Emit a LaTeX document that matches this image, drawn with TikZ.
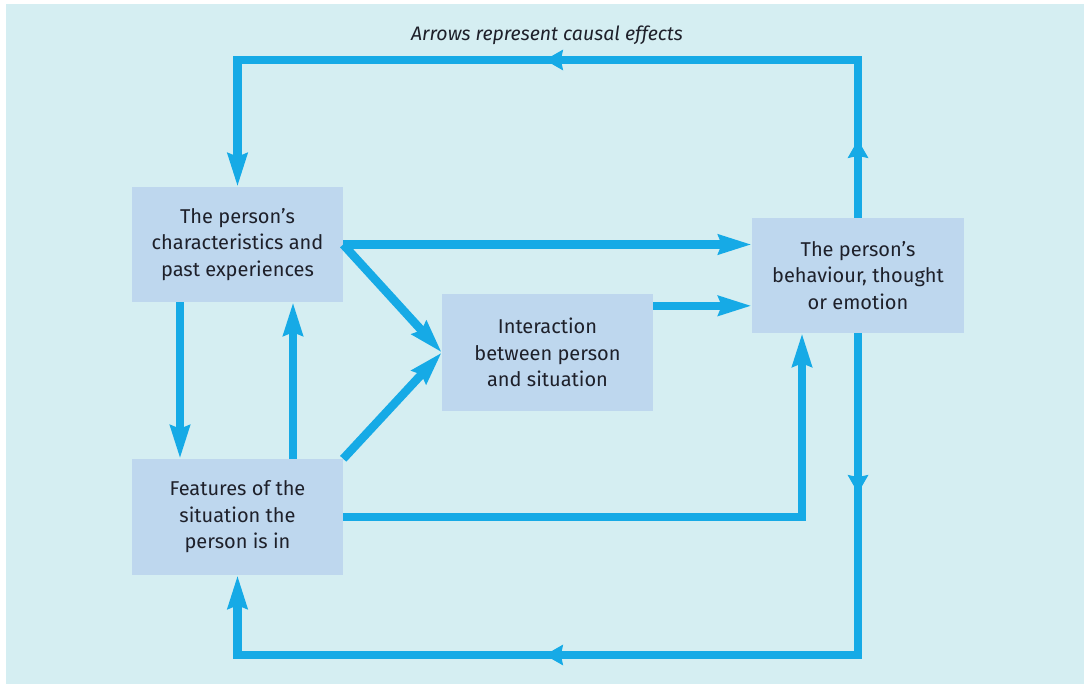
\documentclass[tikz,border=0pt]{standalone}
\usepackage{fontspec}
\setmainfont{Fira Sans}
\usetikzlibrary{arrows.meta,decorations.markings}

\definecolor{panelbg}{RGB}{213,238,242}
\definecolor{boxfill}{RGB}{190,215,238}
\definecolor{flow}{RGB}{22,170,230}
\definecolor{ink}{RGB}{30,32,42}

\tikzset{
  factor/.style={fill=boxfill, draw=none, minimum width=211pt, minimum height=115pt,
    align=center, text=ink, inner sep=0pt, font=\fontsize{20}{26.5}\selectfont},
  link/.style={draw=flow, line width=8.5pt, line join=miter,
    -{Stealth[length=33pt,width=19pt,inset=3pt]}},
  flowmarks/.style 2 args={postaction={decorate}, decoration={markings,
    mark=at position #1 with {\arrow[flow]{Stealth[length=18pt,width=20pt,inset=2pt]}},
    mark=at position #2 with {\arrow[flow]{Stealth[length=18pt,width=20pt,inset=2pt]}}}}
}

\begin{document}
\begin{tikzpicture}[x=1pt,y=-1pt]
  % page and light panel
  \useasboundingbox (0,0) rectangle (1084,684);
  \fill[white] (0,0) rectangle (1084,684);
  \fill[panelbg] (6,4) rectangle (1084,684);

  \node[font=\itshape\fontsize{19.5}{22}\selectfont, text=ink] (title) at (547,35)
    {Arrows represent causal effects};

  % the four factors
  \node[factor] (A) at (237.5,244.5) {The person's\\characteristics and\\past experiences};
  \node[factor, minimum height=116pt] (B) at (237.5,517) {Features of the\\situation the\\person is in};
  \node[factor, minimum height=117pt] (C) at (547.5,352.5) {Interaction\\between person\\and situation};
  \node[factor, minimum width=212pt] (D) at (858,275.5) {The person's\\behaviour, thought\\or emotion};

  \coordinate (top) at (0,60);
  \coordinate (bot) at (0,655);
  \coordinate (c1) at ([yshift=-12pt]C.north east);

  % direct effects
  \draw[link] (A.east) -- (A.east -| D.west);
  \draw[link] (A.east) -- (C.west);
  \draw[link] (B.north east) -- (C.west);
  \draw[link] (c1) -- (c1 -| D.west);
  \draw[link] ([xshift=-57.5pt]A.south) -- ([xshift=-57.5pt]B.north);
  \draw[link] ([xshift=55.5pt]B.north) -- ([xshift=55.5pt]A.south);
  \draw[link] (B.east) -| ([xshift=-56pt]D.south);

  % feedback loops
  \draw[link, flowmarks={78pt}{471pt}] (D.north) -- (D.north |- top) -| (A.north);
  \draw[link, flowmarks={160pt}{635pt}] (D.south) -- (D.south |- bot) -| (B.south);
\end{tikzpicture}
\end{document}
